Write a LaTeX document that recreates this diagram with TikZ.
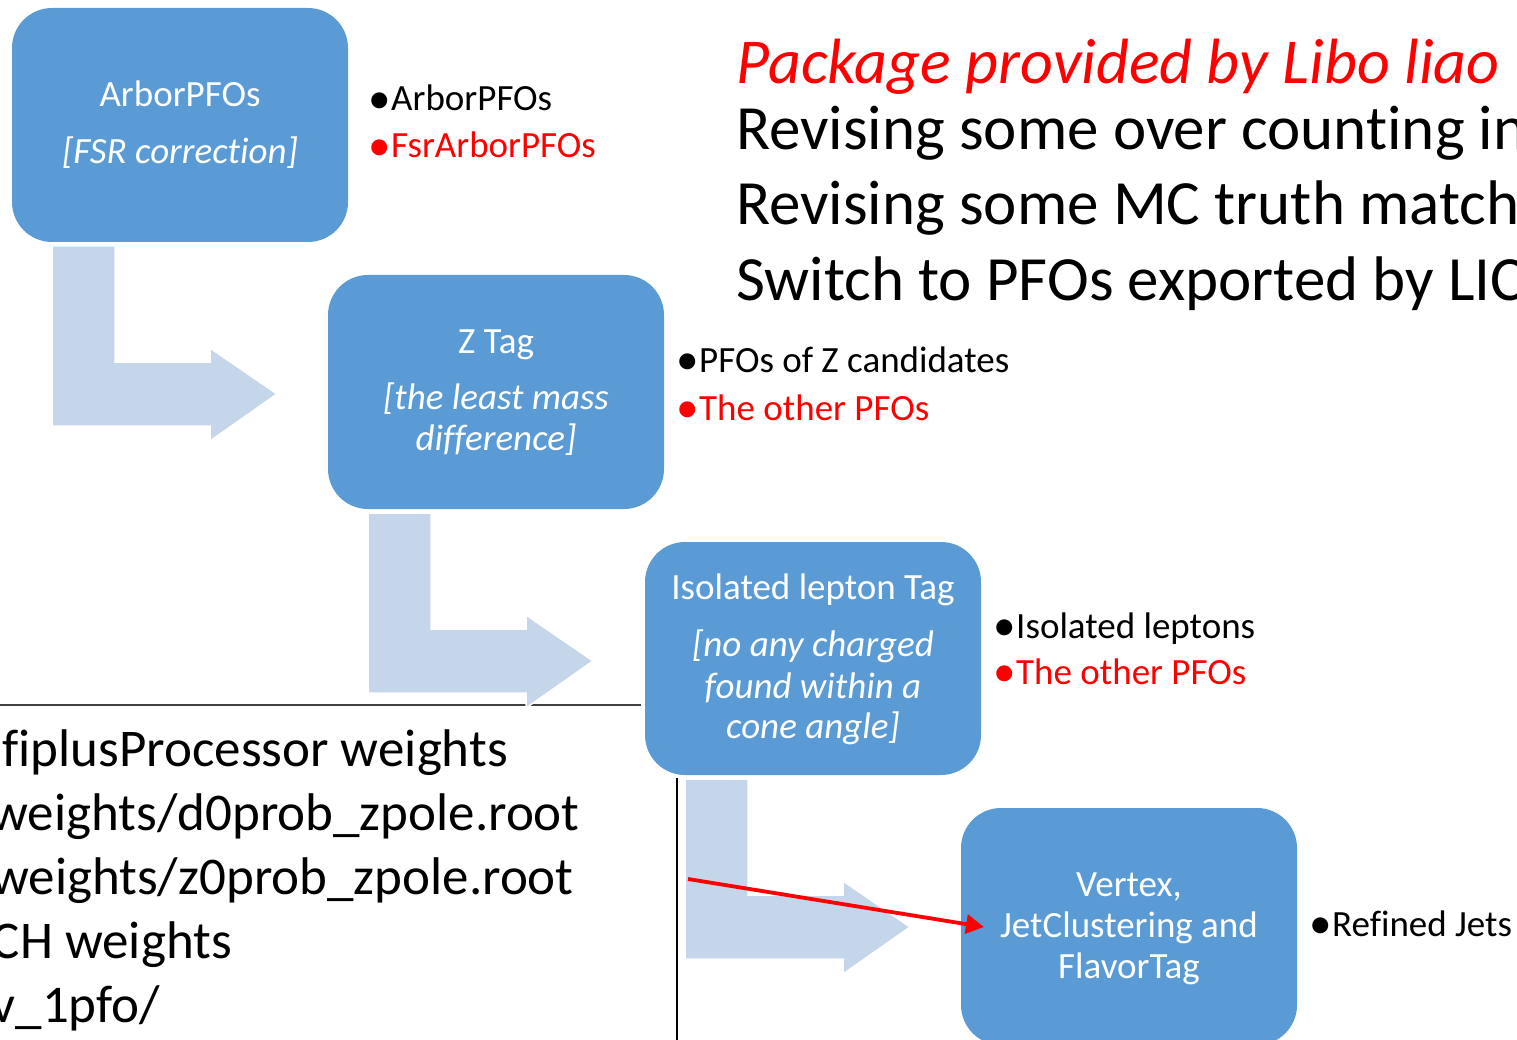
\documentclass[tikz,border=0pt]{standalone}
\usepackage{fontspec}
\usepackage{graphicx}
\setmainfont[Ligatures={NoCommon}]{Carlito}
\usetikzlibrary{arrows.meta}
\definecolor{boxblue}{HTML}{5B9BD5}
\definecolor{flowblue}{HTML}{C5D5EA}
\definecolor{rulegray}{HTML}{404040}
\definecolor{hotred}{HTML}{FF0000}
\tikzset{
  stage/.style={fill=boxblue, rounded corners=40pt},
  flow/.style={fill=flowblue, draw=white, line width=1.5pt},
  boxtext/.style={text=white, align=center, anchor=base,
    font=\fontsize{37}{41}\selectfont, inner sep=0pt},
  boxnote/.style={boxtext, font=\fontsize{37}{41}\selectfont\itshape},
  sidetext/.style={anchor=base west, inner sep=0pt,
    font=\fontsize{37}{44}\selectfont},
  headtext/.style={anchor=base west, inner sep=0pt,
    font=\fontsize{63}{70}\selectfont},
  pathtext/.style={anchor=base east, inner sep=0pt,
    font=\fontsize{53}{60}\selectfont},
}
\newcommand{\bul}{\makebox[23pt][l]{\raisebox{-0.06em}{\scalebox{1.22}{•}}}}
\begin{document}
\begin{tikzpicture}[x=1pt, y=-1pt]
\useasboundingbox (0,0) rectangle (1517,1040);
\clip (0,0) rectangle (1517,1040);

% separator rules
\coordinate (hl0) at (0,705);
\coordinate (hl1) at (641,705);
\coordinate (vl0) at (677,778);
\coordinate (vl1) at (677,1040);
\draw[rulegray, line width=1.3pt] (hl0) -- (hl1);
\draw[black, line width=1.2pt] (vl0) -- (vl1);

% bent flow arrows between the stages
\foreach \dx/\dy in {0/0, 316/267, 633/533}{
  \begin{scope}[shift={(\dx,\dy)}]
    \filldraw[flow] (52,246) -- (115,246) -- (115,362) -- (210,362)
      -- (210,348) -- (277,394) -- (210,441) -- (210,426) -- (52,426) -- cycle;
  \end{scope}
}

% stage boxes
\fill[stage] (12,8) rectangle (348,242);
\fill[stage] (328,275) rectangle (664,509);
\fill[stage] (645,542) rectangle (981,775);
\fill[stage] (961,808) rectangle (1297,1045);

\node[boxtext] (t1) at (180,107) {ArborPFOs};
\node[boxnote] (n1) at (180,164) {[FSR correction]};

\node[boxtext] (t2) at (496,353) {Z Tag};
\node[boxnote] (n2a) at (496,409) {[the least mass};
\node[boxnote] (n2b) at (496,450) {difference]};

\node[boxtext] (t3) at (813,599) {Isolated lepton Tag};
\node[boxnote] (n3a) at (813,656) {[no any charged};
\node[boxnote] (n3b) at (813,698) {found within a};
\node[boxnote] (n3c) at (813,738) {cone angle]};

\node[boxtext] (t4a) at (1129,896) {Vertex,};
\node[boxtext] (t4b) at (1129,937) {JetClustering and};
\node[boxtext] (t4c) at (1129,978) {FlavorTag};

% outputs of each stage
\node[sidetext] (o1a) at (368,111) {\bul ArborPFOs};
\node[sidetext, text=hotred] (o1b) at (368,158) {\bul FsrArborPFOs};
\node[sidetext] (o2a) at (676,372) {\bul PFOs of Z candidates};
\node[sidetext, text=hotred] (o2b) at (676,420) {\bul The other PFOs};
\node[sidetext] (o3a) at (993,638) {\bul Isolated leptons};
\node[sidetext, text=hotred] (o3b) at (993,684) {\bul The other PFOs};
\node[sidetext] (o4) at (1309,936) {\bul Refined Jets};

% notes at the top right
\node[headtext, text=hotred, font=\fontsize{64}{70}\selectfont\itshape] (h0) at (736,84) {Package provided by Libo liao};
\node[headtext] (h1) at (736,150) {Revising some over counting in};
\node[headtext] (h2) at (736,225) {Revising some MC truth match};
\node[headtext] (h3) at (736,301) {Switch to PFOs exported by LIC};

% weight files, bottom left
\node[pathtext] (p1) at (508,766) {fiplusProcessor weights};
\node[pathtext] (p2) at (580,830) {weights/d0prob\_zpole.root};
\node[pathtext] (p3) at (574,894) {weights/z0prob\_zpole.root};
\node[pathtext] (p4) at (232,958) {CH weights};
\node[pathtext] (p5) at (160,1022) {v\_1pfo/};

% red pointer into the last stage
\coordinate (rp0) at (688,879);
\coordinate (rp1) at (984,927);
\draw[hotred, line width=3.8pt, -{Triangle[length=18pt,width=19pt]}] (rp0) -- (rp1);
\end{tikzpicture}
\end{document}
